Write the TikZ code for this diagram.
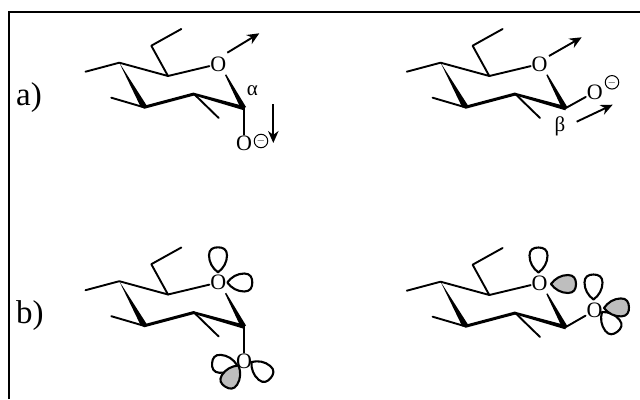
\documentclass[tikz,border=0pt]{standalone}
\usepackage{fontspec}
\setmainfont{Liberation Serif}
\usetikzlibrary{arrows.meta}
\definecolor{lobegray}{HTML}{BEBEBE}
\tikzset{
  bond/.style={line width=1.9pt,line cap=round,line join=round},
  frameline/.style={line width=2pt,line cap=butt,line join=miter},
  atom/.style={inner sep=0.8pt,font=\fontsize{22}{23}\selectfont,text=black},
  greek/.style={inner sep=0pt,font=\fontsize{21}{22}\selectfont,text=black},
  tag/.style={inner sep=0pt,anchor=base west,font=\fontsize{33}{35}\selectfont,text=black},
  charge/.style={circle,draw,line width=1pt,minimum size=13.5pt,inner sep=0pt,font=\fontsize{11}{11}\selectfont},
  dipole/.style={line width=1.9pt,-{Stealth[length=12pt,width=10.5pt]}},
  lobe/.style={line width=2.1pt,line join=round,draw=black,fill=white},
  graylobe/.style={lobe,fill=lobegray}
}
% #1 x shift, #2 y shift, #3 prefix
\newcommand{\sugar}[3]{%
  \begin{scope}[shift={(#1,#2)}]
    \node[atom] (#3O) at (218.3,64) {O};
    \coordinate (#3me) at (85.5,71.7);
    \coordinate (#3c4) at (119.3,62.7);
    \coordinate (#3c5) at (168,76);
    \coordinate (#3ch) at (151.3,45.7);
    \coordinate (#3end) at (181.3,29);
    \coordinate (#3c1) at (244,108.3);
    \coordinate (#3c2) at (194,94);
    \coordinate (#3c3) at (144,107.3);
    \coordinate (#3s3) at (111.3,97.7);
    \coordinate (#3s2) at (218.7,118);
    \coordinate (#3ow) at (225,75);
    \draw[bond] (#3me) -- (#3c4) -- (#3c5) -- (#3ch) -- (#3end);
    \draw[bond] (#3c5) -- (#3O);
    \draw[bond] (#3c3) -- (#3s3);
    \draw[bond] (#3c2) -- (#3s2);
    \fill[line join=round] (#3c4) -- (141,107.5) -- (147,106) -- cycle;
    \draw[bond,line width=3pt] (#3c3) -- (#3c2);
    \fill (#3c2) ++(0,-1.2) -- (245.5,106.5) -- (244,110.3) -- (194,95.4) -- cycle;
    \fill (#3ow) -- (241,109) -- (246,107) -- (226.2,74.4) -- cycle;
  \end{scope}}
% #1 position, #2 angle, #3 style
\newcommand{\orbital}[3]{%
  \draw[#3,shift={#1},rotate=#2] (0,0) .. controls (4,-5.5) and (10,-9) .. (17,-9)
     .. controls (23,-9) and (25,-5) .. (25,0)
     .. controls (25,5) and (23,9) .. (17,9)
     .. controls (10,9) and (4,5.5) .. (0,0) -- cycle;}
\begin{document}
\begin{tikzpicture}[x=1pt,y=-1pt]
\useasboundingbox (0,0) rectangle (640,399);
\coordinate (fb) at (9,399);
\coordinate (fc) at (9,12);
\coordinate (fr) at (640,12);
\draw[frameline] (fb) -- (fc) -- (fr);
\node[tag] (la) at (16,105.5) {a)};
\node[tag] (lb) at (16,323) {b)};

% a) alpha
\sugar{0}{0}{p}
\node[atom] (pOm) at (244,143) {O};
\draw[bond] (pc1) -- (pOm);
\node[charge] (pch) at (261,141) {$-$};
\node[greek] (pal) at (252.3,90.5) {α};
\coordinate (pa1) at (227.3,52.7);
\coordinate (pa2) at (259.3,33.3);
\draw[dipole] (pa1) -- (pa2);
\coordinate (pa3) at (273.3,104);
\coordinate (pa4) at (273.3,143);
\draw[dipole] (pa3) -- (pa4);

% a) beta
\sugar{321.3}{0}{q}
\node[atom] (qOm) at (594.7,92) {O};
\draw[bond] (qc1) -- (qOm);
\node[charge] (qch) at (612,82.3) {$-$};
\node[greek] (qbe) at (560,126) {β};
\coordinate (qa1) at (549,56);
\coordinate (qa2) at (581.7,37.3);
\draw[dipole] (qa1) -- (qa2);
\coordinate (qa3) at (576.7,121.7);
\coordinate (qa4) at (612.7,104.7);
\draw[dipole] (qa3) -- (qa4);

% b) alpha
\orbital{(218,272.3)}{90}{lobe}
\orbital{(227.3,282.5)}{0}{lobe}
\orbital{(237,365)}{176}{lobe}
\orbital{(238.5,365.5)}{238}{graylobe}
\orbital{(251.5,362)}{-40}{lobe}
\sugar{0}{218.5}{r}
\node[atom] (rOm) at (244,361) {O};
\draw[bond] (rc1) -- (rOm);

% b) beta
\orbital{(538.5,272.5)}{90}{lobe}
\orbital{(551,284)}{0}{graylobe}
\orbital{(593.5,299.5)}{90}{lobe}
\orbital{(602,312)}{-52}{lobe}
\orbital{(604,308)}{2}{graylobe}
\sugar{321.3}{219}{s}
\node[atom] (sOm) at (594.5,310.5) {O};
\draw[bond] (sc1) -- (sOm);
\end{tikzpicture}
\end{document}
